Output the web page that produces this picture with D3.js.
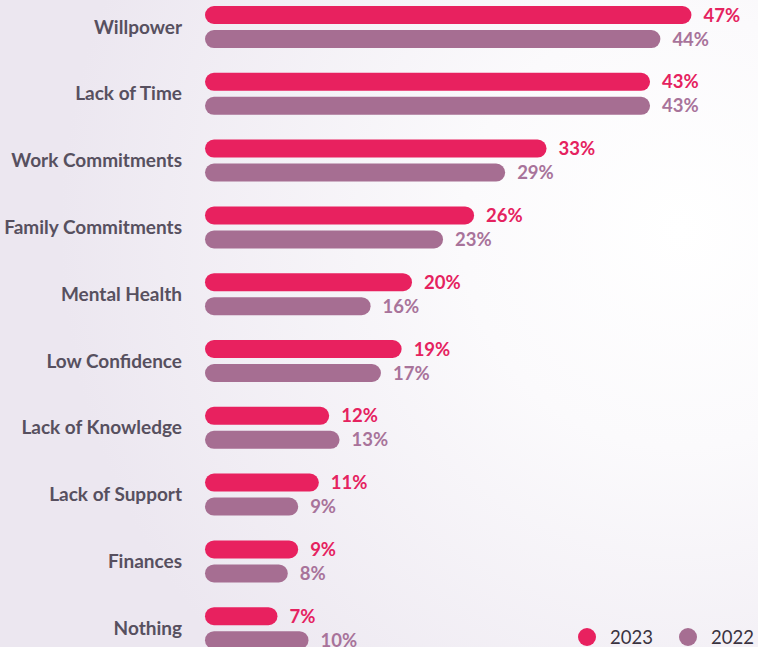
<!DOCTYPE html>
<html>
<head>
<meta charset="utf-8">
<script src="https://cdn.jsdelivr.net/npm/d3@7/dist/d3.min.js"></script>
<style>
  html, body { margin: 0; padding: 0; }
  body { width: 758px; height: 647px; overflow: hidden; }
  svg { display: block; }
</style>
</head>
<body>
<svg id="chart" width="758" height="647"></svg>
<script>
// Barriers to reaching fitness goals, share of respondents by year
const categories = [
  "Willpower", "Lack of Time", "Work Commitments", "Family Commitments",
  "Mental Health", "Low Confidence", "Lack of Knowledge", "Lack of Support",
  "Finances", "Nothing"
];
const years = ["2023", "2022"];
const values2023 = [47, 43, 33, 26, 20, 19, 12, 11, 9, 7];
const values2022 = [44, 43, 29, 23, 16, 17, 13, 9, 8, 10];

const colors = { "2023": "#E8215F", "2022": "#A66E92" };
const labelColors = { "2023": "#E5225F", "2022": "#A8739A" };

const W = 758, H = 647;
const svg = d3.select("#chart");
const FONT = "Lato, 'Noto Sans', sans-serif";

// soft lavender background with a lighter glow toward the right
const defs = svg.append("defs");
const grad = defs.append("radialGradient")
  .attr("id", "bg").attr("gradientUnits", "userSpaceOnUse")
  .attr("cx", 680).attr("cy", 230).attr("r", 620);
grad.append("stop").attr("offset", "0%").attr("stop-color", "#ffffff");
grad.append("stop").attr("offset", "35%").attr("stop-color", "#fbfafc");
grad.append("stop").attr("offset", "100%").attr("stop-color", "#ece7f0");
svg.append("rect").attr("width", W).attr("height", H).attr("fill", "url(#bg)");

const rows = categories.map((c, i) => ({
  category: c,
  "2023": values2023[i],
  "2022": values2022[i]
}));

const x = d3.scaleLinear().domain([0, 10]).range([205, 308.5]);

const y = d3.scaleBand()
  .domain(categories)
  .range([6, 649.2])
  .paddingInner(0.371)
  .paddingOuter(0);

const ySub = d3.scaleBand()
  .domain(years)
  .range([0, y.bandwidth()])
  .paddingInner(0.25);

const barH = ySub.bandwidth();

const groups = svg.append("g").selectAll("g.row")
  .data(rows)
  .join("g")
  .attr("class", "row")
  .attr("transform", d => `translate(0,${y(d.category)})`);

// category labels
groups.append("text")
  .attr("x", 182)
  .attr("y", y.bandwidth() / 2)
  .attr("dy", "0.35em")
  .attr("text-anchor", "end")
  .attr("font-family", FONT)
  .attr("font-weight", 700)
  .attr("font-size", 19)
  .attr("fill", "#57505F")
  .text(d => d.category);

// bars
groups.selectAll("rect.bar")
  .data(d => years.map(k => ({ key: k, value: d[k] })))
  .join("rect")
  .attr("class", "bar")
  .attr("x", x(0))
  .attr("y", d => ySub(d.key))
  .attr("width", d => x(d.value) - x(0))
  .attr("height", barH)
  .attr("rx", barH / 2)
  .attr("fill", d => colors[d.key]);

// value labels
groups.selectAll("text.val")
  .data(d => years.map(k => ({ key: k, value: d[k] })))
  .join("text")
  .attr("class", "val")
  .attr("x", d => x(d.value) + 12)
  .attr("y", d => ySub(d.key) + barH / 2)
  .attr("dy", "0.36em")
  .attr("font-family", FONT)
  .attr("font-weight", 700)
  .attr("font-size", 18.5)
  .attr("fill", d => labelColors[d.key])
  .text(d => d.value + "%");

// legend
const legend = svg.append("g").selectAll("g")
  .data([{ key: "2023", cx: 587, tx: 610 }, { key: "2022", cx: 688, tx: 711 }])
  .join("g");
legend.append("circle")
  .attr("cx", d => d.cx).attr("cy", 637).attr("r", 9)
  .attr("fill", d => colors[d.key]);
legend.append("text")
  .attr("x", d => d.tx).attr("y", 637)
  .attr("dy", "0.36em")
  .attr("font-family", FONT)
  .attr("font-weight", 400)
  .attr("font-size", 18.5)
  .attr("fill", "#3A3340")
  .text(d => d.key);
</script>
</body>
</html>
